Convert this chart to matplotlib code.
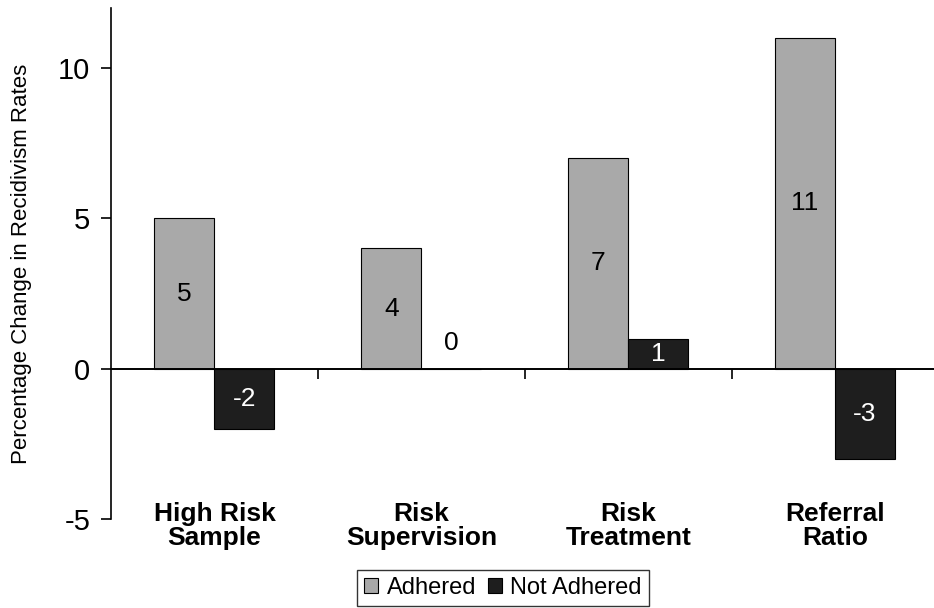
import numpy as np
import matplotlib
matplotlib.use("Agg")
import matplotlib.pyplot as plt

# data
categories = ["High Risk\nSample", "Risk\nSupervision", "Risk\nTreatment", "Referral\nRatio"]
adhered = [5, 4, 7, 11]
not_adhered = [-2, 0, 1, -3]
series_names = ["Adhered", "Not Adhered"]
yticks = [-5, 0, 5, 10]

plt.rcParams['font.family'] = ['Liberation Sans', 'DejaVu Sans']
plt.rcParams['axes.unicode_minus'] = False

fig = plt.figure(figsize=(9.34, 6.08), dpi=100)
W, H = 934, 608
ax = fig.add_axes([111 / W, (608 - 519) / H, (938.5 - 111) / W, (519 - 8) / H])

x = np.arange(len(categories))
w = 0.29
c_adh = "#a9a9a9"
c_not = "#1e1e1e"

b1 = ax.bar(x - w / 2, adhered, w, color=c_adh, edgecolor="black", linewidth=0.8, label=series_names[0])
b2 = ax.bar(x + w / 2, not_adhered, w, color=c_not, edgecolor="black", linewidth=0.8, label=series_names[1])

# value labels in the middle of each bar (zero sits just above the axis)
for xi, v in zip(x - w / 2, adhered):
    ax.text(xi, v / 2, str(v), ha="center", va="center", fontsize=19, color="black")
for xi, v in zip(x + w / 2, not_adhered):
    col = "white" if v != 0 else "black"
    ax.text(xi, v / 2 + (0.85 if v == 0 else 0), str(v), ha="center", va="center",
            fontsize=19, color=col)

ax.set_xlim(-0.5, 3.5)
ax.set_ylim(-5, 12)
ax.set_yticks(yticks)
ax.tick_params(axis="y", direction="out", length=7, width=1.2, labelsize=21, pad=8)

# x axis sits on zero, ticks between groups
ax.spines["top"].set_visible(False)
ax.spines["right"].set_visible(False)
ax.spines["bottom"].set_position(("data", 0))
ax.spines["bottom"].set_linewidth(1.4)
ax.spines["left"].set_linewidth(1.2)
ax.set_xticks([0.5, 1.5, 2.5])
ax.set_xticklabels([])
ax.tick_params(axis="x", direction="out", length=7, width=1.2)

for i, lab in enumerate(categories):
    ax.text(i, -4.42, lab, ha="center", va="top", fontsize=19, fontweight="bold",
            linespacing=1.0)

ax.set_ylabel("Percentage Change in Recidivism Rates", fontsize=16)
ax.yaxis.set_label_coords(-0.095, 0.5)

leg = fig.legend(handles=[b1, b2], loc="lower center", bbox_to_anchor=(503 / W, -0.005),
                 ncol=2, frameon=True, fancybox=False, shadow=False, fontsize=17,
                 handlelength=0.6, handleheight=0.6, handletextpad=0.35, columnspacing=0.5,
                 borderpad=0.3, borderaxespad=0.2)
leg.get_frame().set_edgecolor("black")
leg.get_frame().set_linewidth(1)

fig.savefig("out.png", dpi=100)
